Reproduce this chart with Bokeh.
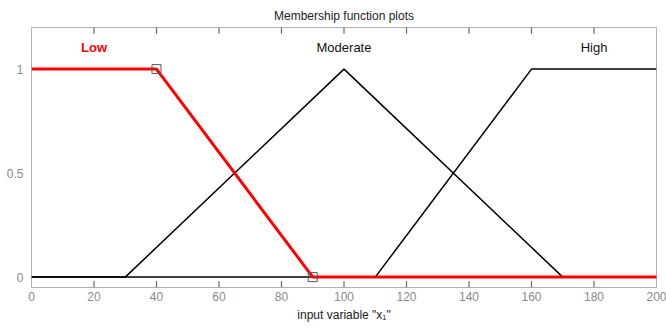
from bokeh.plotting import figure
from bokeh.models import FixedTicker, Label, Range1d, Title
from bokeh.embed import file_html
from bokeh.resources import INLINE

# data
low_x = [0, 40, 90, 200]
low_y = [1, 1, 0, 0]
mod_x = [0, 30, 100, 170, 200]
mod_y = [0, 0, 1, 0, 0]
high_x = [0, 110, 160, 200]
high_y = [0, 0, 1, 1]
sel_x = [40, 90]
sel_y = [1, 0]
names = ["Low", "Moderate", "High"]
name_x = [20, 100, 180]
name_y = [1.105, 1.105, 1.105]
x_ticks = [0, 20, 40, 60, 80, 100, 120, 140, 160, 180, 200]
y_ticks = [0, 0.5, 1]

FONT = "Liberation Sans"
GREY = "#8a8a8a"
TICK = "#666666"
Y0, Y1 = -0.05, 1.2
TICK_LEN = 0.03  # in y data units (~6px)

p = figure(width=666, height=329, output_backend="svg", toolbar_location=None,
           x_range=Range1d(0, 200), y_range=Range1d(Y0, Y1),
           min_border_left=31, min_border_right=10, min_border_top=27, min_border_bottom=42)
p.title = Title(text="Membership function plots", align="center", text_font=FONT,
                text_font_size="12px", text_font_style="normal", text_color="#222222",
                offset=0)
p.grid.visible = False
p.outline_line_color = "#b0b0b0"
p.background_fill_color = "white"

for ax in p.xaxis:
    ax.ticker = FixedTicker(ticks=x_ticks)
    ax.axis_line_color = None
    ax.major_tick_in = 0
    ax.major_tick_out = 0
    ax.minor_tick_in = 0
    ax.minor_tick_out = 0
    ax.minor_tick_line_color = None
    ax.major_label_text_font = FONT
    ax.major_label_text_font_size = "12px"
    ax.major_label_text_color = GREY
    ax.major_label_standoff = 4
    ax.axis_label = 'input variable "x\u2081"'
    ax.axis_label_text_font = FONT
    ax.axis_label_text_font_size = "12px"
    ax.axis_label_text_font_style = "normal"
    ax.axis_label_text_color = "#222222"
    ax.axis_label_standoff = 4

for ax in p.yaxis:
    ax.ticker = FixedTicker(ticks=y_ticks)
    ax.major_label_overrides = {0: "0", 0.5: "0.5", 1: "1"}
    ax.axis_line_color = None
    ax.major_tick_in = 0
    ax.major_tick_out = 0
    ax.minor_tick_in = 0
    ax.minor_tick_out = 0
    ax.minor_tick_line_color = None
    ax.major_label_text_font = FONT
    ax.major_label_text_font_size = "12px"
    ax.major_label_text_color = GREY
    ax.major_label_standoff = 8

# inward tick marks on the bottom and top edges of the frame
inner = x_ticks[1:-1]
n = len(inner)
p.segment(x0=inner, y0=[Y0] * n, x1=inner, y1=[Y0 + TICK_LEN] * n,
          line_color=TICK, line_width=1.2)
p.segment(x0=inner, y0=[Y1] * n, x1=inner, y1=[Y1 - TICK_LEN] * n,
          line_color=TICK, line_width=1.2)

p.line(mod_x, mod_y, line_color="black", line_width=1.5)
p.line(high_x, high_y, line_color="black", line_width=1.5)
p.line(low_x, low_y, line_color="red", line_width=3)
p.scatter(sel_x, sel_y, marker="square", size=9, fill_color=None,
          line_color="#555555", line_width=1)

colors = ["red", "#111111", "#111111"]
styles = ["bold", "normal", "normal"]
for t, xx, yy, c, s in zip(names, name_x, name_y, colors, styles):
    p.add_layout(Label(x=xx, y=yy, text=t, text_align="center", text_baseline="middle",
                       text_font=FONT, text_font_size="13px", text_color=c,
                       text_font_style=s))

open("out.html", "w").write(file_html(p, INLINE))
